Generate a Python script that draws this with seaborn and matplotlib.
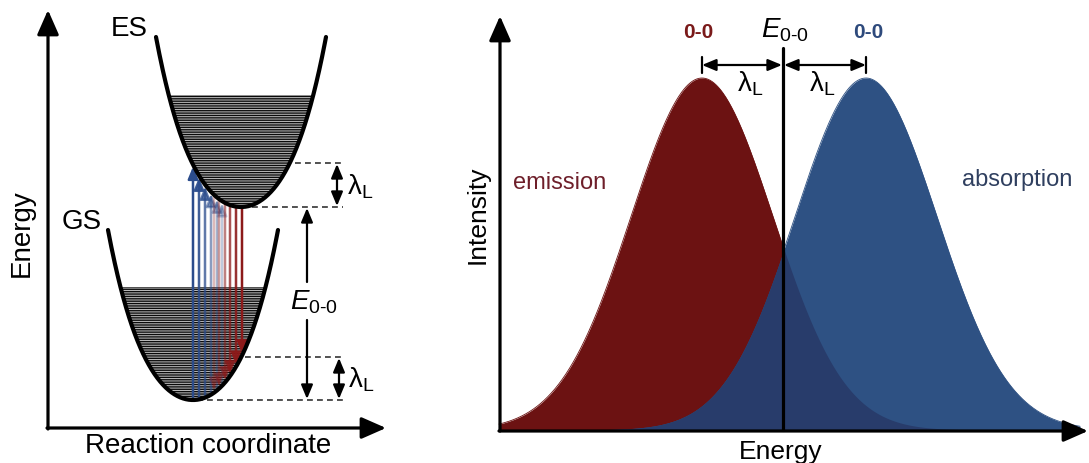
import numpy as np
import pandas as pd
import matplotlib
matplotlib.use("Agg")
import matplotlib.pyplot as plt
import seaborn as sns

# ---------------- data (drawing units = pixels, y grows downward) ----------------
# Left panel: potential-energy wells
well_names = ["ES", "GS"]
well_min_x = [241, 193]
well_min_y = [207, 400]
well_halfwidth = [85, 85]
well_depth = [170, 170]
well_shape = [0.68, 0.32]          # quadratic / quartic weights of the well profile
well_fill_top = [95, 287]          # top of the vibrational-level band

# vertical transitions
absorption_x = [193, 199, 205, 211, 217, 222]
absorption_alpha = [1.0, 0.9, 0.75, 0.55, 0.42, 0.3]
emission_x = [242, 236, 230, 225, 219, 214]
emission_alpha = [1.0, 0.9, 0.75, 0.55, 0.42, 0.3]

# Right panel: spectral bands
band_names = ["emission", "absorption"]
band_center = [702, 866]
band_sigma = [71, 71]
band_height = [352, 352]
baseline_y = 430
e00_x = 783

RED = "#6c1212"
BLUE = "#2e5183"
NAVY = "#283c6b"
ARROW_BLUE = "#2b4c8c"
ARROW_RED = "#8c1a1a"

sns.set_theme(style="white")
plt.rcParams["font.family"] = ["Liberation Sans", "DejaVu Sans"]
plt.rcParams["text.color"] = "black"
plt.rcParams["mathtext.fontset"] = "custom"
plt.rcParams["mathtext.rm"] = "Liberation Sans"
plt.rcParams["mathtext.it"] = "Liberation Sans:italic"
plt.rcParams["mathtext.bf"] = "Liberation Sans:bold"
plt.rcParams["hatch.linewidth"] = 0.95

W, H = 1089, 463
fig = plt.figure(figsize=(W / 100, H / 100), dpi=100)
fig.patch.set_facecolor("white")
ax1 = fig.add_axes([0, 0, 420 / W, 1])
ax2 = fig.add_axes([420 / W, 0, (W - 420) / W, 1])
ax1.set_xlim(0, 420); ax1.set_ylim(H, 0)
ax2.set_xlim(420, W); ax2.set_ylim(H, 0)
for a in (ax1, ax2):
    a.axis("off")


def well_y(i, x):
    u = (np.asarray(x, float) - well_min_x[i]) / well_halfwidth[i]
    return well_min_y[i] - well_depth[i] * (well_shape[0] * u ** 2 + well_shape[1] * u ** 4)


def axis_arrow(ax, start, end, lw=2.3):
    ax.annotate("", xy=end, xytext=start,
                arrowprops=dict(arrowstyle="-|>,head_length=0.75,head_width=0.33",
                                mutation_scale=20, lw=lw, color="black",
                                shrinkA=0, shrinkB=0), zorder=10)


def dbl_arrow(ax, p0, p1, lw=1.6):
    ax.annotate("", xy=p1, xytext=p0,
                arrowprops=dict(arrowstyle="<|-|>,head_length=0.6,head_width=0.25",
                                mutation_scale=14, lw=lw, color="black",
                                shrinkA=0, shrinkB=0), zorder=10)


def one_arrow(ax, p0, p1, lw=1.6, color="black", alpha=1.0, scale=14):
    ax.annotate("", xy=p1, xytext=p0,
                arrowprops=dict(arrowstyle="-|>,head_length=0.6,head_width=0.25",
                                mutation_scale=scale, lw=lw, color=color, alpha=alpha,
                                shrinkA=0, shrinkB=0), zorder=6)


# ---------------- left panel ----------------
for i in range(2):
    xs = np.linspace(well_min_x[i] - well_halfwidth[i], well_min_x[i] + well_halfwidth[i], 300)
    ys = well_y(i, xs)
    top = well_fill_top[i]
    ax1.fill_between(xs, ys, top, where=ys >= top, interpolate=True,
                     facecolor="#b8b8b8", edgecolor="#0a0a0a", hatch="-------",
                     linewidth=0, zorder=2)
    df = pd.DataFrame({"x": xs, "y": ys})
    sns.lineplot(data=df, x="x", y="y", ax=ax1, color="black", lw=3.0,
                 sort=False, estimator=None, zorder=8)

for x, a in zip(absorption_x, absorption_alpha):
    one_arrow(ax1, (x, float(well_y(1, x)) - 1), (x, float(well_y(0, x)) + 2),
              lw=1.8, color=ARROW_BLUE, alpha=a, scale=12)
for x, a in zip(emission_x, emission_alpha):
    one_arrow(ax1, (x, float(well_y(0, x)) + 1), (x, float(well_y(1, x)) - 2),
              lw=1.8, color=ARROW_RED, alpha=a, scale=12)

# axes of the diagram
axis_arrow(ax1, (48, 429), (48, 10))
axis_arrow(ax1, (47, 428), (386, 428))
ax1.text(22, 233, "Energy", rotation=90, ha="center", va="center", fontsize=20)
ax1.text(208, 446, "Reaction coordinate", ha="center", va="center", fontsize=20)
ax1.text(129, 29, "ES", ha="center", va="center", fontsize=20)
ax1.text(82, 222, "GS", ha="center", va="center", fontsize=20)

dash = dict(ls=(0, (3.5, 2.5)), color="#333333", lw=1.2, zorder=3)
ax1.plot([295, 343], [163, 163], **dash)
ax1.plot([252, 343], [207, 207], **dash)
ax1.plot([245, 343], [357, 357], **dash)
ax1.plot([197, 343], [400, 400], **dash)

dbl_arrow(ax1, (337, 164), (337, 206))
dbl_arrow(ax1, (339, 358), (339, 399))
ax1.text(360, 187, r"$\mathrm{λ}_\mathrm{L}$", ha="center", va="center", fontsize=20)
ax1.text(361, 380, r"$\mathrm{λ}_\mathrm{L}$", ha="center", va="center", fontsize=20)

one_arrow(ax1, (307, 282), (307, 208), lw=1.6)
one_arrow(ax1, (307, 320), (307, 399), lw=1.6)
ax1.text(314, 302, r"$E_{\text{0-0}}$", ha="center", va="center", fontsize=20)

# ---------------- right panel ----------------
xs = np.linspace(499, 1080, 800)
curves = []
for i in range(2):
    y = baseline_y - band_height[i] * np.exp(-(xs - band_center[i]) ** 2 / (2 * band_sigma[i] ** 2))
    curves.append(y)
for i, c in enumerate([RED, BLUE]):
    sns.lineplot(x=xs, y=curves[i], ax=ax2, color=c, lw=0.6, sort=False,
                 estimator=None, zorder=1)
ax2.fill_between(xs, baseline_y, curves[0], color=RED, lw=0, zorder=2)
ax2.fill_between(xs, baseline_y, curves[1], color=BLUE, lw=0, zorder=3)
ax2.fill_between(xs, baseline_y, np.maximum(curves[0], curves[1]), color=NAVY, lw=0, zorder=4)

ax2.plot([e00_x, e00_x], [48, baseline_y], color="black", lw=2.3, zorder=9)
axis_arrow(ax2, (500, 431), (500, 16))
axis_arrow(ax2, (499, 431), (1088, 431))

ax2.text(478, 215, "Intensity", rotation=90, ha="center", va="center", fontsize=19)
ax2.text(781, 452, "Energy", ha="center", va="center", fontsize=19)
ax2.text(560, 183, "emission", ha="center", va="center", fontsize=17, color="#6e1f2a")
ax2.text(1017, 180, "absorption", ha="center", va="center", fontsize=17, color="#2f3f5f")
ax2.text(698, 33, "0-0", ha="center", va="center", fontsize=15, fontweight="bold", color="#7a1a1a")
ax2.text(868, 33, "0-0", ha="center", va="center", fontsize=15, fontweight="bold", color="#2e4a7c")
ax2.text(785, 30, r"$E_{\text{0-0}}$", ha="center", va="center", fontsize=20)

dbl_arrow(ax2, (band_center[0], 65), (e00_x - 1, 65))
dbl_arrow(ax2, (e00_x + 1, 65), (band_center[1], 65))
ax2.plot([band_center[0]] * 2, [57, 73], color="black", lw=1.6, zorder=10)
ax2.plot([band_center[1]] * 2, [57, 73], color="black", lw=1.6, zorder=10)
ax2.text(750, 84, r"$\mathrm{λ}_\mathrm{L}$", ha="center", va="center", fontsize=20)
ax2.text(822, 84, r"$\mathrm{λ}_\mathrm{L}$", ha="center", va="center", fontsize=20)

fig.savefig("out.png", dpi=100, facecolor="white")
